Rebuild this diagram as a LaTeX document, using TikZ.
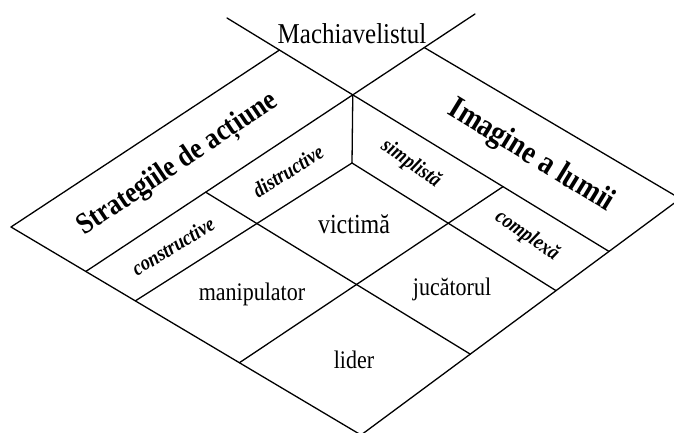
\documentclass[tikz,border=0pt]{standalone}
\usepackage{fontspec}
\usepackage{graphicx}
\setmainfont{Liberation Serif}
\newcommand{\tallx}[1]{\scalebox{1}[1.15]{#1}}
\begin{document}
\begin{tikzpicture}[x=1pt,y=1pt,
  edge/.style={line width=1.3pt, line cap=round, line join=round},
  lbl/.style={inner sep=0pt, font=\fontsize{22}{24}\selectfont},
  big/.style={inner sep=0pt, font=\fontsize{26}{28}\selectfont\bfseries},
  sub/.style={inner sep=0pt, font=\fontsize{18.5}{20}\selectfont\bfseries\itshape}]
\useasboundingbox (0,0) rectangle (674,433);
% defining points of the two families of lines
\coordinate (a0s) at (425,385); \coordinate (a0e) at (674,238);
\coordinate (a1s) at (227,415); \coordinate (a1e) at (608.3,182);
\coordinate (ais) at (352,270); \coordinate (aie) at (555,143);
\coordinate (a2s) at (207,240); \coordinate (a2e) at (470,79);
\coordinate (a3s) at (11,206);  \coordinate (a3e) at (361,-2);
\coordinate (b0s) at (278,382); \coordinate (b0e) at (11,206);
\coordinate (b1s) at (475,419); \coordinate (b1e) at (82,159);
\coordinate (bis) at (352,270); \coordinate (bie) at (132,130);
\coordinate (b2s) at (501,245); \coordinate (b2e) at (239,70);
\coordinate (b3s) at (674,229.7); \coordinate (b3e) at (361,-2);
% intersections
\coordinate (C)   at (intersection of a1s--a1e and b1s--b1e);
\coordinate (V)   at (352,270);
\coordinate (LJ)  at (intersection of b0s--b0e and a1s--a1e);
\coordinate (RJ)  at (intersection of a0s--a0e and b1s--b1e);
\coordinate (Lc)  at (intersection of b0s--b0e and a3s--a3e);
\coordinate (Rc)  at (intersection of a0s--a0e and b3s--b3e);
\coordinate (Bt)  at (intersection of a3s--a3e and b3s--b3e);
\coordinate (A1E) at (intersection of a1s--a1e and b3s--b3e);
\coordinate (B1E) at (intersection of b1s--b1e and a3s--a3e);
\coordinate (AIE) at (intersection of ais--aie and b3s--b3e);
\coordinate (BIE) at (intersection of bis--bie and a3s--a3e);
\coordinate (A2S) at (intersection of a2s--a2e and b1s--b1e);
\coordinate (A2E) at (intersection of a2s--a2e and b3s--b3e);
\coordinate (B2S) at (intersection of b2s--b2e and a1s--a1e);
\coordinate (B2E) at (intersection of b2s--b2e and a3s--a3e);
% lines
\draw[edge] (a1s) -- (A1E);
\draw[edge] (b1s) -- (B1E);
\draw[edge] (LJ) -- (Lc) -- (Bt) -- (Rc) -- (RJ);
\draw[edge] (C) -- (V);
\draw[edge] (V) -- (AIE);
\draw[edge] (V) -- (BIE);
\draw[edge] (A2S) -- (A2E);
\draw[edge] (B2S) -- (B2E);
% texts
\node[inner sep=0pt, font=\fontsize{25}{27}\selectfont] (mach) at (352,399.5) {\tallx{Machiavelistul}};
\node[inner sep=0pt, font=\fontsize{24}{26}\selectfont] (vict) at (354,209) {\tallx{victimă}};
\node[lbl] (manip) at (252,139) {\tallx{manipulator}};
\node[lbl] (juc) at (452,144) {\tallx{jucătorul}};
\node[lbl] (lid) at (354,73) {\tallx{lider}};
\node[big, rotate=34] (strat) at (178,268) {\tallx{Strategiile de acțiune}};
\node[big, font=\fontsize{28}{30}\selectfont\bfseries, rotate=-31.5] (imag) at (531,277) {\tallx{Imagine a lumii}};
\node[sub, rotate=31] (constr) at (173,187) {\tallx{constructive}};
\node[sub, rotate=32] (distr) at (288,262) {\tallx{distructive}};
\node[sub, rotate=-35] (simpl) at (411,269) {\tallx{simplistă}};
\node[sub, rotate=-35] (compl) at (527,197) {\tallx{complexă}};
\end{tikzpicture}
\end{document}
